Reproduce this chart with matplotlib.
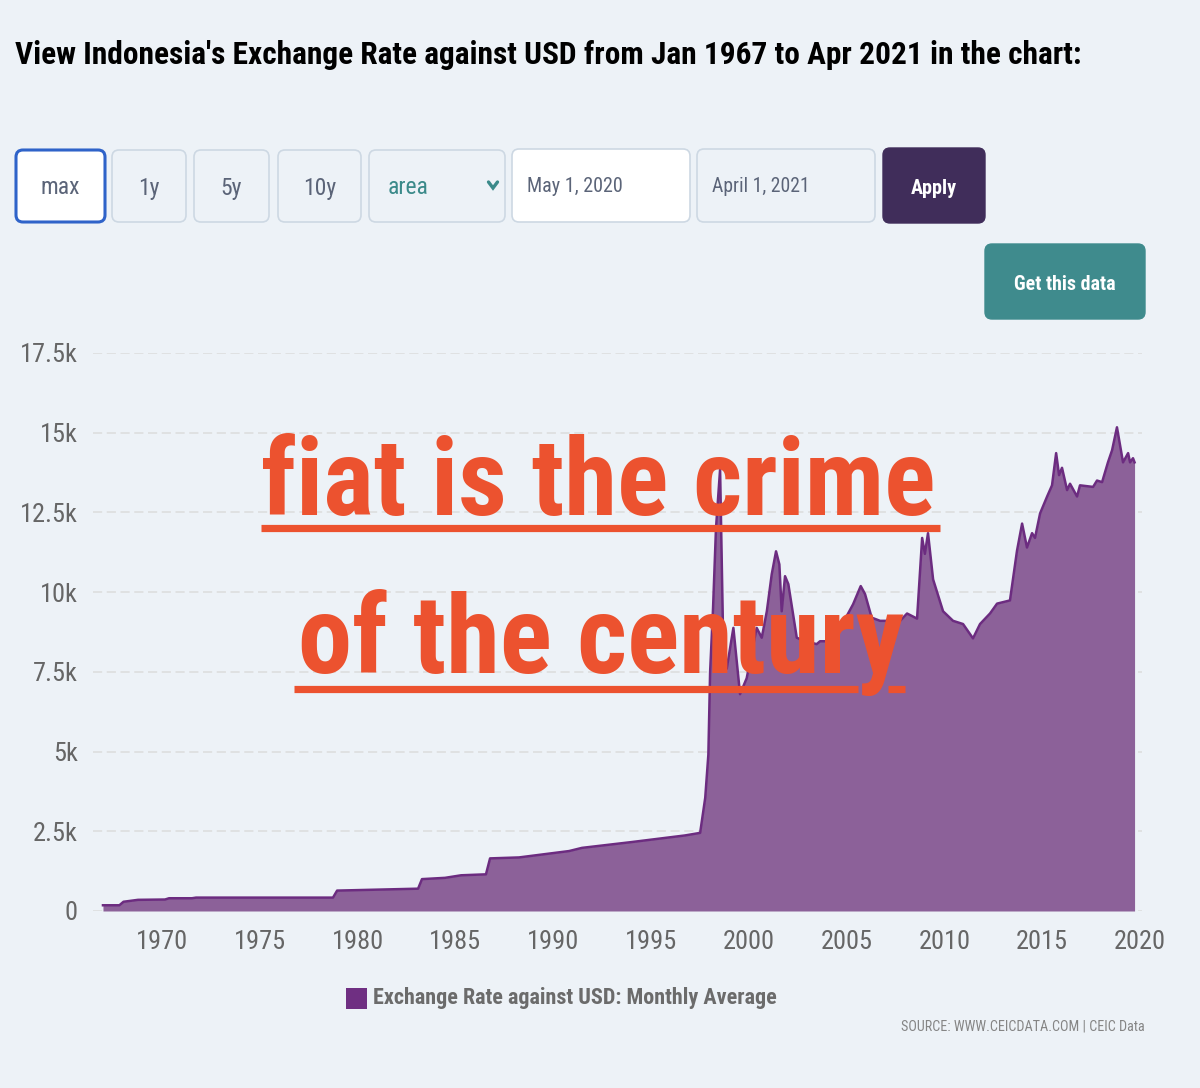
import matplotlib
matplotlib.use('Agg')
import matplotlib.pyplot as plt
from matplotlib import font_manager
from matplotlib.patches import FancyBboxPatch, Rectangle
from matplotlib.ticker import FixedLocator

# ---------------- data ----------------
years = [1966.98, 1967.82, 1968.03, 1968.77, 1970.15, 1970.36, 1971.53, 1971.74,
         1978.74, 1978.95, 1983.09, 1983.29, 1984.47, 1985.29, 1986.56, 1986.77,
         1988.25, 1990.81, 1991.47, 1993.98, 1996.74, 1997.51, 1997.77, 1997.93,
         1998.02, 1998.17, 1998.32, 1998.53, 1998.70, 1998.87, 1999.21, 1999.55,
         1999.89, 2000.40, 2000.66, 2000.92, 2001.17, 2001.39, 2001.56, 2001.68,
         2001.85, 2002.02, 2002.45, 2002.88, 2003.47, 2003.64, 2004.31, 2004.82,
         2005.33, 2005.72, 2005.94, 2006.28, 2006.71, 2007.73, 2008.09, 2008.60,
         2008.86, 2009.00, 2009.16, 2009.42, 2009.93, 2010.44, 2010.95, 2011.46,
         2011.82, 2012.33, 2012.69, 2013.35, 2013.71, 2013.97, 2014.22, 2014.48,
         2014.63, 2014.89, 2015.25, 2015.50, 2015.71, 2015.86, 2016.01, 2016.27,
         2016.42, 2016.78, 2016.93, 2017.60, 2017.80, 2018.06, 2018.36, 2018.57,
         2018.82, 2019.13, 2019.39, 2019.49, 2019.64, 2019.72]
rates = [180, 180, 290, 350, 360, 400, 400, 420,
         420, 640, 700, 1000, 1040, 1120, 1150, 1650,
         1680, 1880, 1980, 2160, 2370, 2450, 3550, 4900,
         7500, 9500, 12000, 13850, 8070, 7600, 8880, 6800,
         7300, 8880, 8570, 9400, 10560, 11280, 10870, 9400,
         10500, 10250, 8570, 8460, 8370, 8460, 8460, 9040,
         9620, 10190, 9940, 9200, 9100, 9100, 9330, 9170,
         11700, 11200, 11850, 10400, 9400, 9100, 9000, 8550,
         9000, 9330, 9640, 9740, 11300, 12150, 11400, 11850,
         11700, 12470, 13000, 13350, 14360, 13670, 13900, 13200,
         13400, 13000, 13350, 13300, 13500, 13450, 14070, 14450,
         15170, 14070, 14360, 14070, 14200, 14070]

y_ticks = [0, 2500, 5000, 7500, 10000, 12500, 15000, 17500]
y_tick_labels = ['0', '2.5k', '5k', '7.5k', '10k', '12.5k', '15k', '17.5k']
x_ticks = [1970, 1975, 1980, 1985, 1990, 1995, 2000, 2005, 2010, 2015, 2020]
x_tick_labels = [str(v) for v in x_ticks]

title = "View Indonesia's Exchange Rate against USD from Jan 1967 to Apr 2021 in the chart:"
series_name = "Exchange Rate against USD: Monthly Average"
source = "SOURCE: WWW.CEICDATA.COM | CEIC Data"
overlay1 = "fiat is the crime"
overlay2 = "of the century"
buttons = ["max", "1y", "5y", "10y"]
chart_type = "area"
date_from = "May 1, 2020"
date_to = "April 1, 2021"

# ---------------- fonts ----------------
names = {f.name for f in font_manager.fontManager.ttflist}


def pick(cands):
    for c in cands:
        if c in names:
            return c
    return 'DejaVu Sans'


COND = pick(['Roboto Condensed', 'Archivo Narrow', 'Liberation Sans Narrow',
             'Asap Condensed', 'Sofia Sans Condensed', 'PT Sans Narrow'])
BIG = pick(['Roboto Condensed', 'Liberation Sans Narrow', 'Asap Condensed',
            'Archivo Narrow', 'Sofia Sans Condensed'])
plt.rcParams['font.family'] = [COND, 'DejaVu Sans']

# ---------------- figure ----------------
W, H = 1200, 1088
BG = '#edf2f7'
fig = plt.figure(figsize=(W / 100, H / 100), dpi=100)
fig.patch.set_facecolor(BG)
renderer = fig.canvas.get_renderer()


def pix_axes(z):
    a = fig.add_axes([0, 0, 1, 1], zorder=z)
    a.set_xlim(0, W)
    a.set_ylim(H, 0)
    a.axis('off')
    a.patch.set_alpha(0)
    return a


bg = pix_axes(0)
ov = pix_axes(5)


def fit(t, target_w):
    w = t.get_window_extent(renderer).width
    t.set_fontsize(t.get_fontsize() * target_w / w)
    return t


def rbox(x0, y0, x1, y1, fc, ec, lw, r=7):
    p = FancyBboxPatch((x0, y0), x1 - x0, y1 - y0,
                       boxstyle=f"round,pad=0,rounding_size={r}",
                       fc=fc, ec=ec, lw=lw)
    bg.add_patch(p)


# title
fit(bg.text(15, 64, title, fontsize=28, fontweight='bold', color='#000000',
            ha='left', va='baseline'), 1067)

# controls
TXT = '#5b6478'
BORDER = '#cdd8e3'
rbox(16, 150, 105, 222, '#ffffff', '#2f63c9', 2.2)
bg.text(60.5, 188, buttons[0], fontsize=17, color=TXT, ha='center', va='center')
for (x0, x1), lab in zip([(112, 186), (194, 269), (278, 361)], buttons[1:]):
    rbox(x0, 150, x1, 222, BG, BORDER, 1.2)
    bg.text((x0 + x1) / 2, 188, lab, fontsize=17, color=TXT, ha='center', va='center')
rbox(369, 150, 505, 222, BG, BORDER, 1.2)
bg.text(388, 188, chart_type, fontsize=17, color='#3b8a8a', ha='left', va='center')
bg.plot([488.5, 493, 497.5], [182, 188, 182], color='#3b8a8a', lw=2.4,
        solid_capstyle='round', solid_joinstyle='miter')
rbox(512, 149, 690, 222, '#ffffff', BORDER, 1.2)
fit(bg.text(527, 187, date_from, fontsize=16, color=TXT, ha='left', va='center'), 96)
rbox(697, 149, 875, 222, BG, BORDER, 1.2)
fit(bg.text(712, 187, date_to, fontsize=16, color=TXT, ha='left', va='center'), 98)
rbox(883, 148, 985, 223, '#402d5a', '#402d5a', 1)
fit(bg.text(934, 189, "Apply", fontsize=16, color='white', ha='center', va='center',
            fontweight='bold'), 46)
rbox(985, 244, 1145, 319, '#3f8b8d', '#3f8b8d', 1)
fit(bg.text(1065, 284, "Get this data", fontsize=16, color='white', ha='center',
            va='center', fontweight='bold'), 102)

# ---------------- chart ----------------
L, R, T, B = 93, 1142, 353, 911
ax = fig.add_axes([L / W, 1 - B / H, (R - L) / W, (B - T) / H], zorder=1)
ax.patch.set_alpha(0)
ax.fill_between(years, rates, 0, color='#8c6199', lw=0, zorder=2)
ax.plot(years, rates, color='#6c2c80', lw=1.8, zorder=3)
ax.set_xlim(1966.47, 2020.1)
ax.set_ylim(0, 17500)
ax.yaxis.set_major_locator(FixedLocator(y_ticks))
ax.set_yticklabels(y_tick_labels)
ax.xaxis.set_major_locator(FixedLocator(x_ticks))
ax.set_xticklabels(x_tick_labels)
ax.grid(axis='y', color='#dcdcdc', linestyle=(0, (6, 3)), lw=1.1, zorder=1)
for s in ax.spines.values():
    s.set_visible(False)
ax.tick_params(axis='both', length=0, labelcolor='#666666', labelsize=19)
ax.tick_params(axis='y', pad=11)
ax.tick_params(axis='x', pad=14)

# legend & source
bg.add_patch(Rectangle((346, 988), 21, 21, fc='#6f2f82', ec='none'))
fit(bg.text(373, 998, series_name, fontsize=19, fontweight='bold', color='#6b6b6b',
            ha='left', va='center'), 404)
fit(bg.text(1145, 1027, source, fontsize=12, color='#858585', ha='right',
            va='center'), 241)

# ---------------- overlay ----------------
RED = '#ec522f'
fit(ov.text(261, 515, overlay1, fontsize=100, fontweight='bold', color=RED,
            ha='left', va='baseline', family=[BIG, 'DejaVu Sans']), 674)
fit(ov.text(298, 673, overlay2, fontsize=100, fontweight='bold', color=RED,
            ha='left', va='baseline', family=[BIG, 'DejaVu Sans']), 606)
ov.plot([261, 940], [527.5, 527.5], color=RED, lw=5.2, solid_capstyle='butt')
ov.plot([294, 858], [688.5, 688.5], color=RED, lw=5.2, solid_capstyle='butt')
ov.plot([888, 905], [688.5, 688.5], color=RED, lw=5.2, solid_capstyle='butt')

fig.savefig('out.png', dpi=100, facecolor=BG)
